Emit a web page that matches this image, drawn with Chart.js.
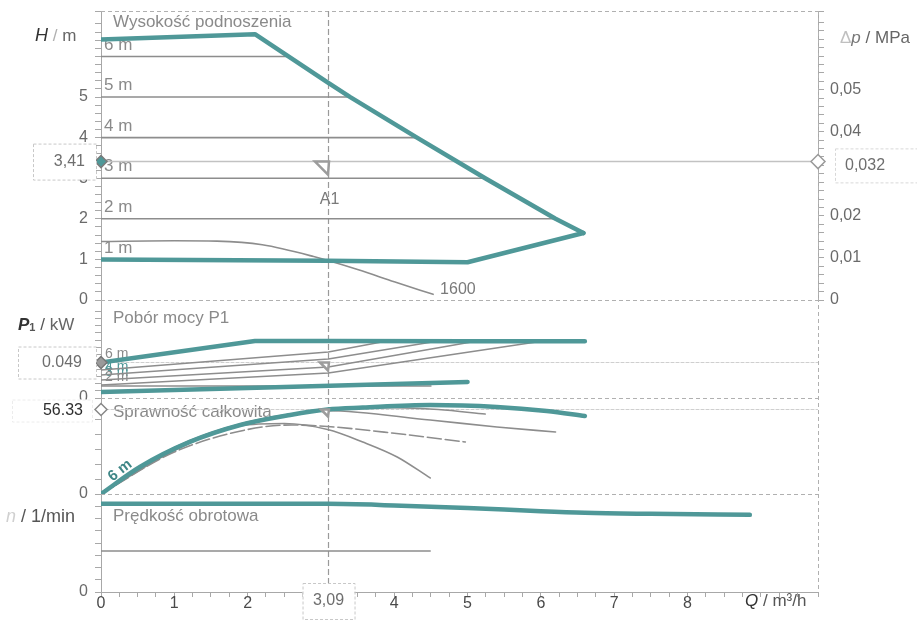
<!DOCTYPE html>
<html lang="pl">
<head>
<meta charset="utf-8">
<title>Charakterystyka pompy</title>
<script src="https://cdn.jsdelivr.net/npm/chart.js@4.4.1/dist/chart.umd.min.js"></script>
<style>
  html, body { margin: 0; padding: 0; background: #fff; }
  canvas { display: block; }
</style>
</head>
<body>
<canvas id="pump" width="917" height="634"></canvas>
<script>
// ---------- flow axis (m³/h) ----------
const flowMax = 9.78;
const flowLabels = [0, 1, 2, 3, 4, 5, 6, 7, 8];

// ---------- operating point A1 ----------
const opQ = 3.09;
const opH = 3.41;
const opDp = 0.032;
const opP = 0.049;
const opEta = 56.33;

// ---------- head H / m ----------
const headMaxQ = [0, 2.1, 3.09, 3.4, 4.31, 5.24, 6.2, 6.58];
const headMaxH = [6.42, 6.55, 5.36, 5.0, 4.0, 3.0, 2.0, 1.65];
const headMinQ = [0, 3.09, 5.0, 6.58];
const headMinH = [1.0, 0.97, 0.93, 1.65];
const head1600Q = [0, 1.0, 1.58, 2.2, 2.9, 3.5, 4.0, 4.53];
const head1600H = [1.44, 1.46, 1.45, 1.36, 1.07, 0.75, 0.45, 0.14];
const settingHeads = [6, 5, 4, 3, 2];
const settingEndQ = [2.56, 3.4, 4.31, 5.24, 6.2];
const headLabels = [0, 1, 2, 3, 4, 5];
const dpLabels = [0, 0.01, 0.02, 0.04, 0.05];

// ---------- power P1 / kW ----------
const powerMaxQ = [0, 2.1, 3.09, 5.0, 6.6];
const powerMaxP = [0.049, 0.0787, 0.0787, 0.0785, 0.0785];
const powerMinQ = [0, 5.0];
const powerMinP = [0.0083, 0.022];
const power1600Q = [0, 4.5];
const power1600P = [0.0166, 0.0166];
const power5Q = [0, 3.1, 3.9];
const power5P = [0.0387, 0.0635, 0.0787];
const power4Q = [0, 3.1, 4.6];
const power4P = [0.0318, 0.0539, 0.0787];
const power3Q = [0, 3.1, 5.13];
const power3P = [0.0249, 0.0428, 0.0787];
const power2Q = [0, 3.1, 6.03];
const power2P = [0.018, 0.0345, 0.0787];

// ---------- efficiency η / % ----------
const effMaxQ = [0, 0.53, 1.21, 1.9, 2.58, 3.09, 3.57, 4.49, 5.4, 6.08, 6.6];
const effMaxE = [0, 18, 34.7, 46, 52.7, 56.33, 57.6, 59.3, 58, 55.3, 52];
const eff3Q = [0, 1, 2, 3.09, 4, 4.6, 5.24];
const eff3E = [0, 31, 48, 56, 57.5, 56.3, 53.3];
const eff2Q = [0, 1, 2, 2.6, 3.09, 4.49, 5.4, 6.2];
const eff2E = [0, 30, 47, 53, 55.5, 49.3, 44.7, 41.3];
const eff1Q = [0, 1, 2, 2.6, 3.09, 4, 4.97];
const eff1E = [0, 28, 43, 46, 45, 40.5, 34.7];
const eff1600Q = [0, 1, 1.9, 2.5, 3.09, 3.57, 4.04, 4.49];
const eff1600E = [0, 29, 45.5, 47, 43, 34.7, 24.7, 10.7];

// ---------- speed n / 1/min ----------
const speedMaxQ = [0, 3.09, 4.0, 5.0, 6.0, 6.6, 7.5, 8.85];
const speedMaxN = [3440, 3440, 3380, 3280, 3150, 3090, 3050, 3010];
const speed1600Q = [0, 4.49];
const speed1600N = [1600, 1600];

// ---------- styling ----------
const TEAL = '#4f9898';
const GRAY = '#8d8d8d';
const FAMILY = '"Liberation Sans", Arial, sans-serif';
const F = (size, style = '') => `${style} ${size}px ${FAMILY}`.trim();
Chart.defaults.font.family = FAMILY;

const pts = (qs, vs) => qs.map((q, i) => ({ x: q, y: vs[i] }));
const curve = (qs, vs, axis, color, width, extra = {}) => Object.assign({
  data: pts(qs, vs), yAxisID: axis, borderColor: color, borderWidth: width,
  pointRadius: 0, fill: false, tension: 0, borderCapStyle: 'round', borderJoinStyle: 'round'
}, extra);
const marker = (q, v, axis, style, r, fillC, strokeC) => ({
  data: [{ x: q, y: v }], yAxisID: axis, showLine: false, pointStyle: style, pointRadius: r,
  pointBackgroundColor: fillC, pointBorderColor: strokeC, pointBorderWidth: 1.5, clip: false
});
const smooth = { cubicInterpolationMode: 'monotone' };

const datasets = [
  marker(0, opH, 'yH', 'rectRot', 6, TEAL, '#7a7a7a'),
  marker(flowMax, opH, 'yH', 'rectRot', 7, '#fff', '#9a9a9a'),
  marker(0, opP, 'yP', 'rectRot', 6, '#9a9a9a', '#777'),
  marker(0, opEta, 'yE', 'rectRot', 6, '#fff', '#888'),
  marker(opQ, 0, 'yN', 'triangle', 7, '#fff', '#999'),

  curve(headMaxQ, headMaxH, 'yH', TEAL, 4.5),
  curve(headMinQ, headMinH, 'yH', TEAL, 4.5),
  curve(powerMaxQ, powerMaxP, 'yP', TEAL, 4.5),
  curve(powerMinQ, powerMinP, 'yP', TEAL, 4.5),
  curve(effMaxQ, effMaxE, 'yE', TEAL, 4.5, smooth),
  curve(speedMaxQ, speedMaxN, 'yN', TEAL, 4.5, smooth),

  ...settingHeads.map((h, i) => curve([0, settingEndQ[i]], [h, h], 'yH', GRAY, 1.6)),
  curve(head1600Q, head1600H, 'yH', GRAY, 1.6, smooth),
  curve(power5Q, power5P, 'yP', GRAY, 1.5),
  curve(power4Q, power4P, 'yP', GRAY, 1.5),
  curve(power3Q, power3P, 'yP', GRAY, 1.5),
  curve(power2Q, power2P, 'yP', GRAY, 1.5),
  curve(power1600Q, power1600P, 'yP', GRAY, 1.5),
  curve(eff3Q, eff3E, 'yE', GRAY, 1.6, smooth),
  curve(eff2Q, eff2E, 'yE', GRAY, 1.6, smooth),
  curve(eff1Q, eff1E, 'yE', GRAY, 1.6, Object.assign({ borderDash: [14, 4] }, smooth)),
  curve(eff1600Q, eff1600E, 'yE', GRAY, 1.6, smooth),
  curve(speed1600Q, speed1600N, 'yN', GRAY, 1.6),

  // operating-point reference lines
  curve([0, flowMax], [opH, opH], 'yH', '#c2c2c2', 1.5),
  curve([0, flowMax], [opP, opP], 'yP', '#cfcfcf', 1.2, { borderDash: [3, 2] }),
  curve([0, flowMax], [opEta, opEta], 'yE', '#cfcfcf', 1.2, { borderDash: [3, 2] })
];

// ---------- helpers for the decoration plugin ----------
const near = (v, step) => Math.abs(v / step - Math.round(v / step)) < 1e-6;
const inList = (v, list) => list.some(l => Math.abs(l - v) < 1e-9);

function runs(ctx, x, y, parts) {
  ctx.textBaseline = 'middle';
  ctx.textAlign = 'left';
  let cx = x;
  parts.forEach(p => {
    ctx.font = p.font; ctx.fillStyle = p.color;
    ctx.fillText(p.t, cx, y + (p.dy || 0));
    cx += ctx.measureText(p.t).width;
  });
}
function text(ctx, s, x, y, font, color, align = 'left', base = 'middle') {
  ctx.font = font; ctx.fillStyle = color; ctx.textAlign = align; ctx.textBaseline = base;
  ctx.fillText(s, x, y);
}
function valueBox(ctx, x0, x1, yc, h, label, tx, align, color, border) {
  ctx.save();
  ctx.fillStyle = '#fff';
  ctx.fillRect(x0, yc - h / 2, x1 - x0, h);
  ctx.strokeStyle = border; ctx.lineWidth = 1; ctx.setLineDash([3, 2]);
  ctx.strokeRect(x0 + 0.5, yc - h / 2 + 0.5, x1 - x0, h);
  ctx.setLineDash([]);
  text(ctx, label, tx, yc, F(16), color, align);
  ctx.restore();
}
function flag(ctx, x, y, size) {
  ctx.beginPath();
  ctx.moveTo(x - size, y); ctx.lineTo(x + 1, y); ctx.lineTo(x, y + size); ctx.closePath();
  ctx.fillStyle = '#fff'; ctx.fill();
  ctx.lineWidth = 2.5; ctx.strokeStyle = '#9c9c9c'; ctx.stroke();
}

const decor = {
  id: 'decor',
  beforeDatasetsDraw(chart) {
    const { ctx, chartArea: a, scales: s } = chart;
    const X = v => s.x.getPixelForValue(v);
    ctx.save();
    // frame and panel separators
    ctx.strokeStyle = '#b0b0b0'; ctx.lineWidth = 1; ctx.setLineDash([4, 3]);
    const hl = y => { ctx.beginPath(); ctx.moveTo(a.left, y + 0.5); ctx.lineTo(a.right, y + 0.5); ctx.stroke(); };
    hl(a.top); hl(s.yH.bottom); hl(s.yP.bottom); hl(s.yE.bottom);
    ctx.beginPath(); ctx.moveTo(a.right + 0.5, a.top); ctx.lineTo(a.right + 0.5, a.bottom); ctx.stroke();
    // operating flow line
    ctx.strokeStyle = '#9a9a9a'; ctx.lineWidth = 1.2; ctx.setLineDash([6, 3]);
    ctx.beginPath(); ctx.moveTo(Math.round(X(opQ)) + 0.5, a.top); ctx.lineTo(Math.round(X(opQ)) + 0.5, a.bottom); ctx.stroke();
    ctx.setLineDash([]);

    // panel titles
    const tc = '#8a8a8a';
    text(ctx, 'Wysokość podnoszenia', a.left + 12, a.top + 11, F(17), tc);
    text(ctx, 'Pobór mocy P1', a.left + 12, s.yH.bottom + 18, F(17), tc);
    text(ctx, 'Sprawność całkowita', a.left + 12, s.yP.bottom + 14, F(17), tc);
    text(ctx, 'Prędkość obrotowa', a.left + 12, s.yE.bottom + 22, F(17), tc);

    // setting labels on the head panel
    [6, 5, 4, 3, 2, 1].forEach(h => {
      text(ctx, h + ' m', a.left + 3, s.yH.getPixelForValue(h) - 3, F(17), '#8a8a8a', 'left', 'bottom');
    });
    text(ctx, 'A1', X(opQ) + 2, s.yH.getPixelForValue(opH) + 38, F(16), '#7a7a7a', 'center');
    text(ctx, '1600', X(head1600Q[head1600Q.length - 1]) + 7, s.yH.getPixelForValue(head1600H[head1600H.length - 1]) - 5, F(16), '#7a7a7a');

    // setting labels on the power panel
    const pl = [['6 m', opP, '#8a8a8a'], ['4 m', power4P[0], TEAL], ['3 m', power3P[0], TEAL], ['2 m', power2P[0], '#8a8a8a']];
    pl.forEach(([t, v, c]) => text(ctx, t, a.left + 4, s.yP.getPixelForValue(v) - 1, F(14), c, 'left', 'bottom'));

    // rotated label along the efficiency curve
    ctx.save();
    ctx.translate(X(0.26), s.yE.getPixelForValue(9) - 10);
    ctx.rotate(-38 * Math.PI / 180);
    text(ctx, '6 m', 0, 0, F(15, 'bold'), '#3f8787', 'center');
    ctx.restore();
    ctx.restore();
  },
  afterDatasetsDraw(chart) {
    const { ctx, scales: s } = chart;
    const x = Math.round(s.x.getPixelForValue(opQ));
    ctx.save();
    flag(ctx, x, s.yH.getPixelForValue(opH), 13);
    flag(ctx, x, s.yP.getPixelForValue(opP), 8);
    flag(ctx, x, s.yE.getPixelForValue(opEta), 7);
    ctx.restore();
  },
  afterDraw(chart) {
    const { ctx, chartArea: a, scales: s } = chart;
    ctx.save();
    // value boxes of the operating point
    valueBox(ctx, 33, 96, s.yH.getPixelForValue(opH), 36, '3,41', 85, 'right', '#6e6e6e', '#c8c8c8');
    valueBox(ctx, 18, 96, s.yP.getPixelForValue(opP), 32, '0.049', 82, 'right', '#6e6e6e', '#c8c8c8');
    valueBox(ctx, 12, 92, s.yE.getPixelForValue(opEta) + 1, 22, '56.33', 83, 'right', '#2e2e2e', '#ececec');
    valueBox(ctx, a.right + 17, 917, s.yDp.getPixelForValue(opDp), 34, '0,032', 845, 'left', '#6e6e6e', '#d8d8d8');
    valueBox(ctx, s.x.getPixelForValue(opQ) - 25, s.x.getPixelForValue(opQ) + 27, a.bottom + 9, 36, '3,09', s.x.getPixelForValue(opQ) + 1, 'center', '#6e6e6e', '#c8c8c8');

    // axis titles
    runs(ctx, 35, 36, [
      { t: 'H', font: F(18, 'italic'), color: '#333' },
      { t: ' / ', font: F(17), color: '#b0b0b0' },
      { t: 'm', font: F(17), color: '#666' }]);
    runs(ctx, 840, 38, [
      { t: 'Δ', font: F(17), color: '#c0c0c0' },
      { t: 'p', font: F(17, 'italic'), color: '#777' },
      { t: ' / MPa', font: F(17), color: '#666' }]);
    runs(ctx, 18, 325, [
      { t: 'P', font: F(17, 'italic bold'), color: '#333' },
      { t: '1', font: F(11, 'bold'), color: '#555', dy: 3 },
      { t: ' / ', font: F(17), color: '#555' },
      { t: 'kW', font: F(17), color: '#666' }]);
    runs(ctx, 6, 517, [
      { t: 'n', font: F(18, 'italic'), color: '#d0d0d0' },
      { t: ' / 1/min', font: F(18), color: '#555' }]);
    runs(ctx, 745, 601, [
      { t: 'Q', font: F(17, 'italic'), color: '#333' },
      { t: ' / m³/h', font: F(17), color: '#555' }]);
    ctx.restore();
  }
};

// ---------- scales ----------
const tickFont = { family: FAMILY, size: 16 };
const noEdgePadding = sc => { sc.paddingTop = 0; sc.paddingBottom = 0; sc.paddingLeft = 0; sc.paddingRight = 0; };
const leftAxis = (min, max, step, weight, cb) => ({
  type: 'linear', position: 'left', stack: 'left', stackWeight: weight, min, max,
  afterFit: sc => { sc.width = 101; noEdgePadding(sc); },
  grid: { drawOnChartArea: false, drawTicks: true, tickLength: 6, color: '#a8a8a8' },
  border: { display: true, color: '#a8a8a8', dash: [3, 2] },
  ticks: { stepSize: step, autoSkip: false, padding: 7, color: '#6a6a6a', font: tickFont, callback: cb }
});
const zeroOnly = v => (Math.abs(v) < 1e-9 ? '0' : '');

// left panels are stacked bottom-up in the order they are declared
const scales = {
  x: {
    type: 'linear', position: 'bottom', min: 0, max: flowMax,
    afterFit: sc => { sc.height = 42; noEdgePadding(sc); },
    grid: { drawOnChartArea: false, drawTicks: true, tickLength: 5, color: '#a8a8a8' },
    border: { display: true, color: '#a8a8a8', dash: [3, 2] },
    ticks: {
      stepSize: 0.25, autoSkip: false, maxRotation: 0, padding: -3, color: '#4a4a4a', font: tickFont,
      callback: v => (near(v, 1) && inList(Math.round(v), flowLabels) ? String(Math.round(v)) : '')
    }
  },
  yN: leftAxis(0, 3824, 500, 98, zeroOnly),
  yE: leftAxis(0, 64, 10, 96, zeroOnly),
  yP: leftAxis(0, 0.1353, 0.01, 98, zeroOnly),
  yH: leftAxis(0, 7.12, 0.2, 289, v => (near(v, 1) && inList(Math.round(v), headLabels) ? String(Math.round(v)) : '')),
  yDp: {
    type: 'linear', position: 'right', stack: 'right', stackWeight: 289, min: 0, max: 0.0687,
    afterFit: sc => { sc.width = 99; noEdgePadding(sc); },
    grid: { drawOnChartArea: false, drawTicks: true, tickLength: 6, color: '#a8a8a8' },
    border: { display: true, color: '#a8a8a8', dash: [3, 2] },
    ticks: {
      stepSize: 0.002, autoSkip: false, padding: 6, color: '#6a6a6a', font: tickFont,
      callback: v => (inList(v, dpLabels) ? (v === 0 ? '0' : v.toFixed(2).replace('.', ',')) : '')
    }
  },
  yR: {
    type: 'linear', position: 'right', stack: 'right', stackWeight: 292, min: 0, max: 1,
    afterFit: sc => { sc.width = 99; noEdgePadding(sc); },
    grid: { display: false }, border: { display: false }, ticks: { display: false }
  }
};

new Chart(document.getElementById('pump'), {
  type: 'line',
  data: { datasets },
  options: {
    responsive: false, animation: false, devicePixelRatio: 1,
    layout: { padding: { top: 11, left: 0, right: 0, bottom: 0 } },
    plugins: { legend: { display: false }, tooltip: { enabled: false } },
    scales
  },
  plugins: [decor]
});
</script>
</body>
</html>
